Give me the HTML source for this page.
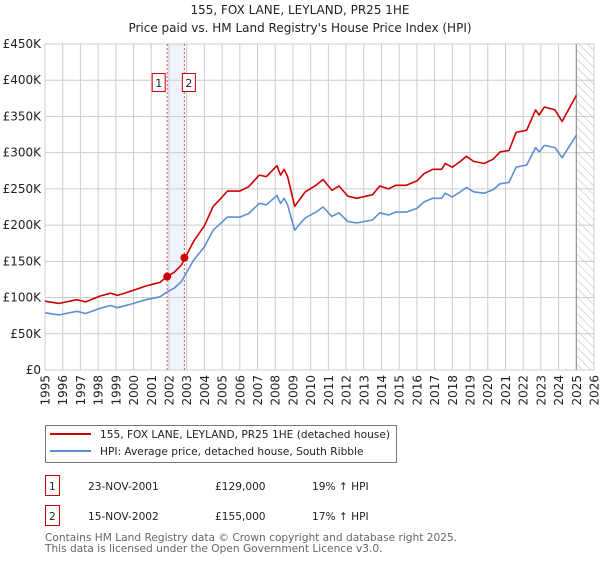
<!DOCTYPE html>
<html><head><meta charset="utf-8"><style>
body{margin:0;background:#fff;width:600px;height:560px;overflow:hidden;font-family:"DejaVu Sans","Liberation Sans",sans-serif;}
svg text{font-family:"DejaVu Sans","Liberation Sans",sans-serif;}
</style></head><body>
<svg id="chart" width="600" height="560" xmlns="http://www.w3.org/2000/svg">
<defs><pattern id="hatch" width="6" height="6" patternUnits="userSpaceOnUse" patternTransform="rotate(-45)"><line x1="0" y1="0" x2="0" y2="6" stroke="#bbb" stroke-width="1"/></pattern></defs>
<text x="300" y="14" text-anchor="middle" font-size="12" fill="#222">155, FOX LANE, LEYLAND, PR25 1HE</text>
<text x="300" y="32" text-anchor="middle" font-size="12" fill="#222">Price paid vs. HM Land Registry's House Price Index (HPI)</text>
<g id="grid"></g>
<g id="marks"></g>
<rect x="45.5" y="425.5" width="351" height="37" fill="#fff" stroke="#777"/>
<line x1="50" y1="434" x2="91" y2="434" stroke="#cc0000" stroke-width="2"/>
<text x="100" y="438" font-size="10.6" fill="#222">155, FOX LANE, LEYLAND, PR25 1HE (detached house)</text>
<line x1="50" y1="451" x2="91" y2="451" stroke="#5b8fd4" stroke-width="2"/>
<text x="100" y="455" font-size="10.6" fill="#222">HPI: Average price, detached house, South Ribble</text>
<g font-size="10.6" fill="#222">
<rect x="45.5" y="475.5" width="14" height="20" fill="#fff" stroke="#cc0000"/><text x="49" y="490">1</text>
<text x="88" y="490">23-NOV-2001</text><text x="215" y="490">£129,000</text><text x="312" y="490">19% ↑ HPI</text></g>
<g font-size="10.6" fill="#222">
<rect x="45.5" y="505.5" width="14" height="20" fill="#fff" stroke="#cc0000"/><text x="49" y="520">2</text>
<text x="88" y="520">15-NOV-2002</text><text x="215" y="520">£155,000</text><text x="312" y="520">17% ↑ HPI</text></g>
<text x="45" y="541" font-size="10.6" fill="#666">Contains HM Land Registry data © Crown copyright and database right 2025.</text>
<text x="45" y="552" font-size="10.6" fill="#666">This data is licensed under the Open Government Licence v3.0.</text>
</svg>
<script>
const hpiYears=[1995.0,1995.8,1996.8,1997.3,1998.1,1998.7,1999.1,2000.0,2000.7,2001.5,2001.9,2002.3,2002.7,2003.4,2004.0,2004.5,2004.9,2005.3,2006.0,2006.5,2007.1,2007.5,2008.1,2008.3,2008.5,2008.7,2009.1,2009.4,2009.7,2010.3,2010.7,2011.2,2011.6,2012.1,2012.6,2013.5,2013.9,2014.4,2014.8,2015.4,2016.0,2016.4,2016.9,2017.4,2017.6,2018.0,2018.4,2018.8,2019.2,2019.8,2020.3,2020.7,2021.2,2021.6,2022.2,2022.7,2022.9,2023.2,2023.8,2024.2,2025.0];
const hpiValues=[79,76,81,78,85,89,86,92,97,101,108,113,122,152,170,193,202,211,211,216,230,228,241,230,237,228,193,202,210,218,225,212,217,205,203,207,217,214,218,218,223,232,237,237,244,239,245,252,246,244,249,257,259,280,283,307,301,310,307,293,324];
const priceValues=[95,92,97,94,102,106,103,110,116,121,129,135,145,178,199,226,236,247,247,253,269,267,282,269,277,267,226,236,246,255,263,248,254,240,237,242,254,250,255,255,261,271,277,277,285,280,287,295,288,285,291,301,303,328,331,359,352,363,359,343,379];
const saleYears=[2001.9,2002.87];
const saleValues=[129,155];
const saleLabels=["1","2"];
const yTicks=[0,50,100,150,200,250,300,350,400,450];
const yTickLabels=["£0","£50K","£100K","£150K","£200K","£250K","£300K","£350K","£400K","£450K"];
const xTicks=[1995,1996,1997,1998,1999,2000,2001,2002,2003,2004,2005,2006,2007,2008,2009,2010,2011,2012,2013,2014,2015,2016,2017,2018,2019,2020,2021,2022,2023,2024,2025,2026];
const dataEnd=2025.0;
const NS="http://www.w3.org/2000/svg";
const X0=45,X1=594,Y0=370,Y1=44;
function xs(y){return X0+(y-1995)/(2026-1995)*(X1-X0);}
function ys(v){return Y0-v/450*(Y0-Y1);}
function mk(tag,attrs,parent){const e=document.createElementNS(NS,tag);for(const k in attrs)e.setAttribute(k,attrs[k]);parent.appendChild(e);return e;}
const grid=document.getElementById('grid'),marks=document.getElementById('marks');
let band=mk('rect',{x:xs(saleYears[0]),y:Y1,width:xs(saleYears[1])-xs(saleYears[0]),height:Y0-Y1,fill:'#eef3fc'},grid);


yTicks.forEach((t,i)=>{
 let l=mk('line',{x1:X0,x2:X1,y1:ys(t),y2:ys(t),stroke:'#ccc','stroke-width':1},grid);
 
 
 let tx=mk('text',{x:X0-4,y:ys(t)+4,'text-anchor':'end','font-size':12,fill:'#222'},grid);
 tx.textContent=yTickLabels[i];
 
 
});
xTicks.forEach(t=>{
 let l=mk('line',{x1:xs(t),x2:xs(t),y1:Y1,y2:Y0,stroke:'#ccc','stroke-width':1},grid);
 
 
 const lx=xs(t)+4.5,ly=Y0+5;
 let tx=mk('text',{x:lx,y:ly,'text-anchor':'end','font-size':12,fill:'#222',transform:'rotate(-90 '+lx+' '+ly+')'},grid);
 tx.textContent=String(t);
 
 
});
let hat=mk('rect',{x:xs(dataEnd),y:Y1,width:X1-xs(dataEnd),height:Y0-Y1,fill:'url(#hatch)'},grid);


let el=mk('line',{x1:xs(dataEnd),x2:xs(dataEnd),y1:Y1,y2:Y0,stroke:'#888','stroke-width':1},grid);


saleYears.forEach((s,i)=>{
 let l=mk('line',{x1:xs(s),x2:xs(s),y1:Y1,y2:Y0,stroke:'#e05050','stroke-width':1,'stroke-dasharray':'2,2'},grid);
 
 
 let bx=xs(s)+(i===0?-9:4);
 let r=mk('rect',{x:bx-6,y:73.5,width:13,height:18,fill:'#fff',stroke:'#cc0000'},grid);
 
 
 let t=mk('text',{x:bx+0.5,y:87,'text-anchor':'middle','font-size':11,fill:'#222'},grid);
 t.textContent=saleLabels[i];
 
 
});
function path(vals,col,name){
 let d=hpiYears.map((y,i)=>(i?'L':'M')+xs(y).toFixed(1)+','+ys(vals[i]).toFixed(1)).join('');
 let p=mk('path',{d:d,fill:'none',stroke:col,'stroke-width':1.6,'stroke-linejoin':'round'},marks);
 
 
}
path(hpiValues,'#5b8fd4','hpi-line');
path(priceValues,'#cc0000','price-line');
saleYears.forEach((s,i)=>{
 let c=mk('circle',{cx:xs(s),cy:ys(saleValues[i]),r:4,fill:'#cc0000'},marks);
 
 
});
</script>
</body></html>
